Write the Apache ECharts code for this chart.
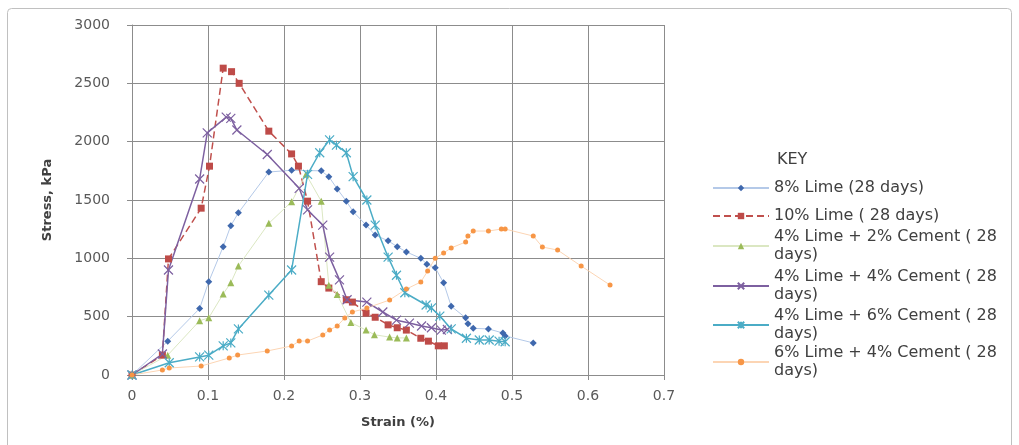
<!DOCTYPE html>
<html>
<head>
<meta charset="utf-8" />
<title>Stress vs strain</title>
<style>
  html, body { margin: 0; padding: 0; background: #fff; }
  #chart { width: 1019px; height: 445px; }
</style>
</head>
<body>
<div id="chart"></div>
<script src="https://cdn.jsdelivr.net/npm/echarts@6/dist/echarts.min.js"></script>
<script>
// series names (legend)
var names = [
  '8% Lime (28 days)',
  '10% Lime ( 28 days)',
  '4% Lime + 2% Cement ( 28\ndays)',
  '4% Lime + 4% Cement ( 28\ndays)',
  '4% Lime + 6% Cement ( 28\ndays)',
  '6% Lime + 4% Cement ( 28\ndays)'
];

// [strain %, stress kPa]
var lime8 = [[0,0],[0.047,290],[0.089,570],[0.101,800],[0.120,1100],[0.130,1280],[0.140,1390],[0.180,1740],
  [0.210,1755],[0.249,1750],[0.259,1700],[0.270,1595],[0.282,1490],[0.291,1400],[0.308,1285],[0.320,1200],
  [0.337,1150],[0.349,1100],[0.361,1055],[0.380,1000],[0.388,950],[0.399,920],[0.410,790],[0.420,590],
  [0.439,490],[0.442,440],[0.449,400],[0.469,395],[0.488,360],[0.491,335],[0.528,275]];

var lime10 = [[0,0],[0.040,170],[0.048,995],[0.091,1430],[0.102,1790],[0.120,2630],[0.131,2600],[0.141,2500],
  [0.180,2090],[0.210,1895],[0.219,1790],[0.231,1490],[0.249,800],[0.259,745],[0.282,645],[0.290,625],
  [0.308,530],[0.320,495],[0.337,430],[0.349,405],[0.361,385],[0.380,315],[0.390,290],[0.403,250],[0.411,250]];

var l4c2 = [[0,0],[0.047,170],[0.089,465],[0.101,490],[0.120,695],[0.130,790],[0.140,935],[0.180,1300],
  [0.210,1485],[0.229,1720],[0.249,1490],[0.259,770],[0.270,690],[0.288,450],[0.308,385],[0.319,345],
  [0.339,325],[0.349,318],[0.361,318]];

var l4c4 = [[0,0],[0.040,180],[0.048,900],[0.089,1680],[0.099,2075],[0.124,2210],[0.130,2200],[0.138,2100],
  [0.178,1890],[0.220,1600],[0.231,1415],[0.251,1285],[0.260,1010],[0.273,815],[0.283,645],[0.309,625],
  [0.330,540],[0.348,470],[0.365,445],[0.381,420],[0.394,405],[0.407,385],[0.415,390]];

var l4c6 = [[0,0],[0.049,105],[0.089,155],[0.101,170],[0.120,250],[0.130,275],[0.140,395],[0.180,685],
  [0.210,900],[0.231,1720],[0.247,1905],[0.260,2015],[0.269,1970],[0.282,1905],[0.291,1700],[0.309,1500],
  [0.320,1285],[0.337,1010],[0.348,855],[0.359,705],[0.387,600],[0.394,575],[0.405,505],[0.420,395],
  [0.440,315],[0.457,300],[0.470,300],[0.483,290],[0.491,285]];

var l6c4 = [[0,0],[0.040,43],[0.049,60],[0.091,77],[0.128,146],[0.139,171],[0.178,206],[0.210,249],
  [0.220,291],[0.231,291],[0.251,343],[0.260,386],[0.270,420],[0.280,489],[0.290,540],[0.309,574],
  [0.339,643],[0.361,737],[0.380,797],[0.389,891],[0.399,1000],[0.410,1046],[0.420,1089],[0.439,1140],
  [0.442,1191],[0.449,1234],[0.469,1234],[0.486,1251],[0.491,1251],[0.528,1191],[0.540,1097],
  [0.560,1071],[0.591,934],[0.629,771]];

var fontName = 'DejaVu Sans';
var crossPath = 'path://M0,0L10,10M10,0L0,10';
var starPath = 'path://M0,0L10,10M10,0L0,10M5,0L5,10';

// one legend per item so the wrapped ones keep their own spacing
var legendTops = [179, 207, 219, 259, 298, 335];
var legends = [];
for (var i = 0; i < names.length; i++) {
  var twoLine = names[i].indexOf('\n') >= 0;
  legends.push({
    data: [names[i]],
    left: 712,
    top: legendTops[i],
    itemWidth: 56,
    itemHeight: 8,
    padding: 0,
    selectedMode: false,
    textStyle: {
      fontFamily: fontName,
      fontSize: 16,
      lineHeight: 18,
      color: '#404040',
      padding: twoLine ? [18, 0, 0, 0] : 0
    }
  });
}

var chart = echarts.init(document.getElementById('chart'));
var option = {
  animation: false,
  backgroundColor: '#fff',
  graphic: [{
    type: 'rect',
    shape: { x: 7.5, y: 8.5, width: 1004, height: 460, r: 4 },
    style: { fill: 'none', stroke: '#c0c0c0', lineWidth: 1 },
    silent: true
  }, {
    type: 'text',
    left: 777,
    top: 152,
    style: { text: 'KEY', fontFamily: fontName, fontSize: 16, fill: '#404040' }
  }],
  legend: legends,
  grid: { left: 132, right: 355, top: 25, bottom: 70 },
  xAxis: {
    type: 'value',
    min: 0, max: 0.7, interval: 0.1,
    name: 'Strain (%)',
    nameLocation: 'middle',
    nameGap: 41,
    nameTextStyle: { fontFamily: fontName, fontSize: 13, fontWeight: 'bold', color: '#404040' },
    axisLine: { show: true, lineStyle: { color: '#8c8c8c', width: 1 } },
    axisTick: { show: true, length: 5, lineStyle: { color: '#8c8c8c' } },
    axisLabel: {
      fontFamily: fontName, fontSize: 14, color: '#595959', margin: 14,
      formatter: function (v) { return v === 0 ? '0' : String(Math.round(v * 10) / 10); }
    },
    splitLine: { show: true, lineStyle: { color: '#8c8c8c', width: 1 } }
  },
  yAxis: {
    type: 'value',
    min: 0, max: 3000, interval: 500,
    name: 'Stress, kPa',
    nameLocation: 'middle',
    nameRotate: 90,
    nameGap: 78,
    nameTextStyle: { fontFamily: fontName, fontSize: 13, fontWeight: 'bold', color: '#404040' },
    axisLine: { show: true, lineStyle: { color: '#8c8c8c', width: 1 } },
    axisTick: { show: true, length: 5, lineStyle: { color: '#8c8c8c' } },
    axisLabel: {
      fontFamily: fontName, fontSize: 14, color: '#595959', margin: 22,
      formatter: function (v) { return String(v); }
    },
    splitLine: { show: true, lineStyle: { color: '#8c8c8c', width: 1 } }
  },
  series: [{
    name: names[0], type: 'line', data: lime8,
    symbol: 'diamond', symbolSize: 7,
    itemStyle: { color: '#3f68ad' },
    lineStyle: { color: '#b4c9e8', width: 1 }
  }, {
    name: names[1], type: 'line', data: lime10,
    symbol: 'rect', symbolSize: 7,
    itemStyle: { color: '#be4b48' },
    lineStyle: { color: '#c0504d', width: 1.5, type: [7, 4] }
  }, {
    name: names[2], type: 'line', data: l4c2,
    symbol: 'triangle', symbolSize: 7,
    itemStyle: { color: '#9bbb59' },
    lineStyle: { color: '#dbe7c2', width: 1 }
  }, {
    name: names[3], type: 'line', data: l4c4,
    symbol: crossPath, symbolSize: 9,
    itemStyle: { color: '#7d60a0', borderColor: '#7d60a0', borderWidth: 1.2 },
    lineStyle: { color: '#7d60a0', width: 1.5 }
  }, {
    name: names[4], type: 'line', data: l4c6,
    symbol: starPath, symbolSize: 9,
    itemStyle: { color: '#4bacc6', borderColor: '#4bacc6', borderWidth: 1.2 },
    lineStyle: { color: '#4bacc6', width: 1.5 }
  }, {
    name: names[5], type: 'line', data: l6c4,
    symbol: 'circle', symbolSize: 5,
    itemStyle: { color: '#f79646' },
    lineStyle: { color: '#fcd5b4', width: 1 }
  }]
};
chart.setOption(option);
</script>
</body>
</html>
